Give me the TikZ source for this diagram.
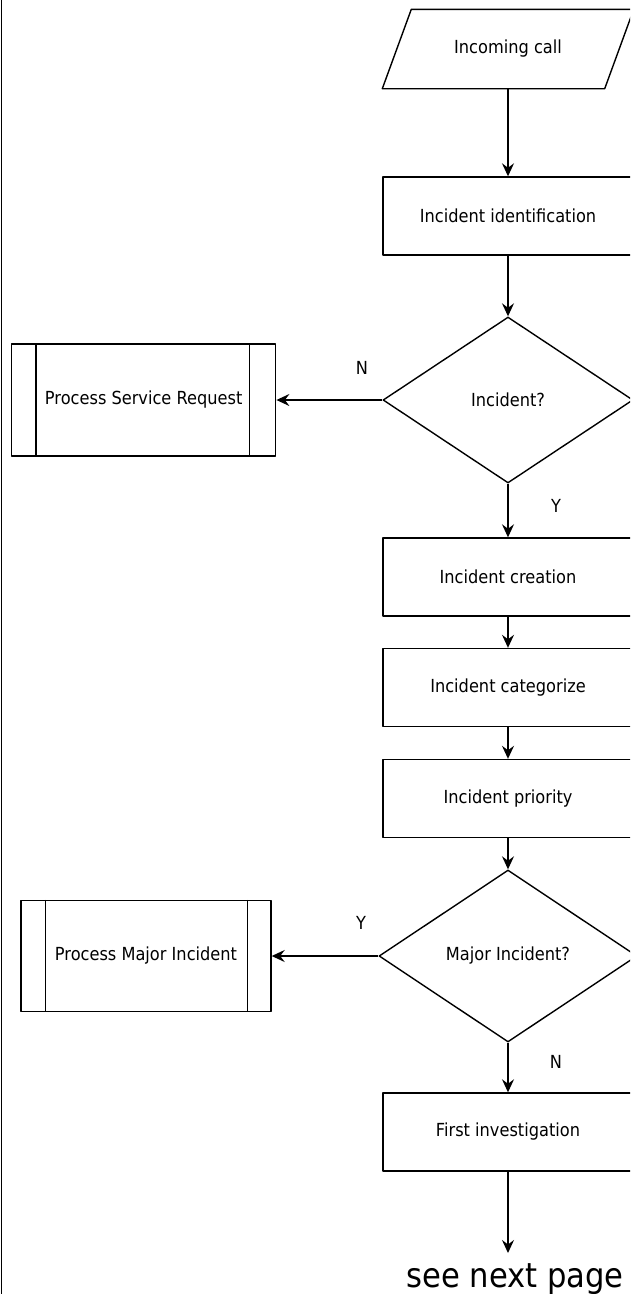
\documentclass[tikz,border=0pt]{standalone}
\usepackage{fontspec}
\setmainfont{DejaVu Sans}[FakeStretch=0.9]
\usetikzlibrary{shapes.geometric,arrows.meta}
\tikzset{
	box/.style={draw,rectangle,minimum width=250pt,minimum height=78pt,inner sep=0pt},
	decide/.style={draw,diamond,inner sep=0pt},
	subproc/.style={draw,rectangle,inner sep=0pt},
	lbl/.style={inner sep=0pt},
	arr/.style={-{Stealth[length=13pt,width=12pt,inset=4.5pt]}}
}
\begin{document}
\begin{tikzpicture}[x=1pt,y=-1pt,font=\fontsize{18}{21}\selectfont,line width=1.4pt,line join=round]
			\useasboundingbox (0,0) rectangle (630,1294);
			\clip (0,0) rectangle (630,1294);
			\draw (1.5,0)--(1.5,1294);
			\node[minimum width=250pt,minimum height=78pt,inner sep=0pt] (call) at (508,49) {Incoming call};
			\draw ([xshift=29pt]call.north west)--(call.north east)
			--([xshift=-29pt]call.south east)--(call.south west)--cycle;
			\node[box] (ident) at (508,216) {Incident identification};
			\node[decide,minimum width=250pt,minimum height=166pt] (incq) at (508,400) {Incident?};
			\node[subproc,minimum width=264pt,minimum height=112pt] (psr) at (143.7,400) {Process Service Request};
			\draw ([xshift=25pt]psr.north west)--([xshift=25pt]psr.south west)
			([xshift=-27pt]psr.north east)--([xshift=-27pt]psr.south east);
			\node[box] (create) at (508,577) {Incident creation};
			\node[box] (categ) at (508,687.5) {Incident categorize};
			\node[box] (prio) at (508,798.5) {Incident priority};
			\node[decide,minimum width=258pt,minimum height=172pt] (majq) at (508,956) {Major Incident?};
			\node[subproc,minimum width=250pt,minimum height=111pt] (pmi) at (146,956) {Process Major Incident};
			\draw ([xshift=25pt]pmi.north west)--([xshift=25pt]pmi.south west)
			([xshift=-24pt]pmi.north east)--([xshift=-24pt]pmi.south east);
			\node[box] (first) at (508,1132) {First investigation};
			\node[lbl,anchor=base,font=\fontsize{34}{40}\selectfont] (next) at (515,1287) {see next page};
			\coordinate (nextin) at (508,1253);
			\node[lbl] (n1) at (362,368) {N};
			\node[lbl] (y1) at (556,506) {Y};
			\node[lbl] (y2) at (361,923) {Y};
			\node[lbl] (n2) at (556,1062) {N};
			\foreach \a/\b in {call/ident,ident/incq,incq/create,create/categ,categ/prio,prio/majq,majq/first}{\draw[arr]
				(\a)--(\b);}
			\draw[arr] (incq.west)--(psr.east);
			\draw[arr] (majq.west)--(pmi.east);
			\draw[arr] (first.south)--(nextin);
	\end{tikzpicture}
\end{document}
